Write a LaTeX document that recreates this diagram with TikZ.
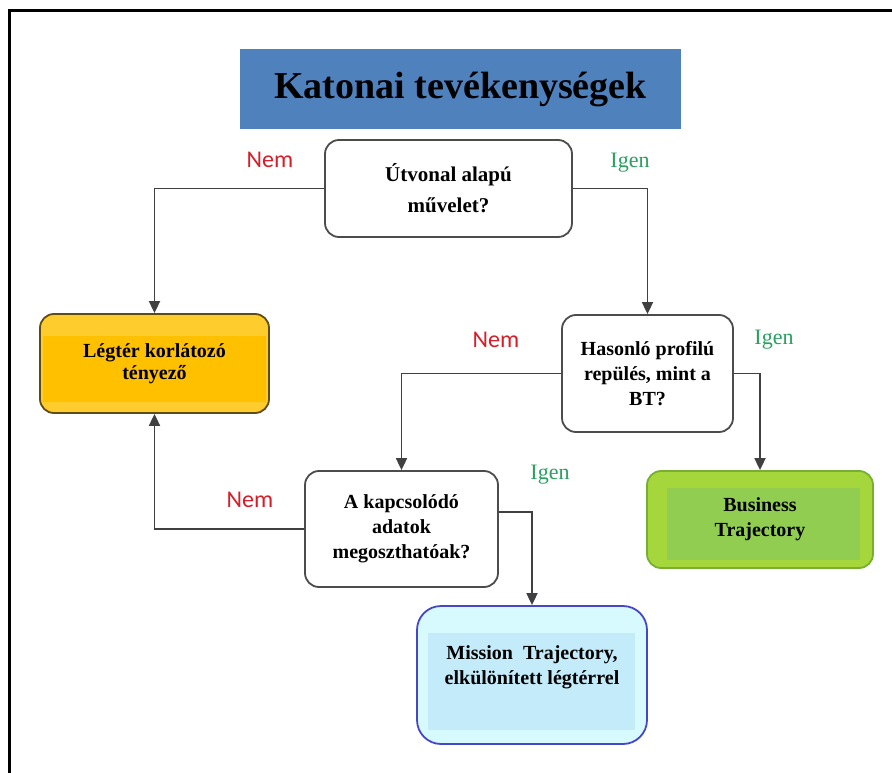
\documentclass[tikz,border=0pt]{standalone}
\usepackage{fontspec}
\setmainfont{Liberation Serif}
\newfontfamily\nemfont{Carlito}
\usetikzlibrary{positioning,arrows.meta}

\definecolor{titleblue}{RGB}{79,129,189}
\definecolor{nemred}{RGB}{215,30,40}
\definecolor{igengreen}{RGB}{40,160,95}
\definecolor{orangeout}{RGB}{255,204,45}
\definecolor{orangein}{RGB}{255,192,0}
\definecolor{orangeline}{RGB}{95,75,20}
\definecolor{greenout}{RGB}{165,215,60}
\definecolor{greenin}{RGB}{145,205,80}
\definecolor{greenline}{RGB}{120,175,50}
\definecolor{cyanout}{RGB}{215,250,255}
\definecolor{cyanin}{RGB}{195,235,250}
\definecolor{cyanline}{RGB}{70,70,200}

\begin{document}
\begin{tikzpicture}[x=1pt,y=-1pt,
  askbox/.style={rectangle,draw=black!70,line width=1.8pt,rounded corners=14pt,fill=white,align=center,font=\fontsize{20}{25}\selectfont\bfseries},
  endbox/.style n args={5}{rectangle,draw=#1,line width=1.8pt,rounded corners=14pt,fill=#2,align=center,font=\fontsize{20}{25}\selectfont\bfseries,
    path picture={\fill[#3,sharp corners] ([shift={(#4)}]path picture bounding box.north west) rectangle ([shift={(#5)}]path picture bounding box.south east);}},
  flow/.style={-{Triangle[length=12pt,width=11pt]},line width=1.8pt,black!75},
  nolabel/.style={font=\nemfont\fontsize{24}{24}\selectfont,text=nemred},
  yeslabel/.style={font=\fontsize{22}{22}\selectfont,text=igengreen},
]
\useasboundingbox (0,0) rectangle (892,773);

% frame
\draw[line width=3pt] (9,773) -- (9,11) -- (892,11);

% ==== title ====
\node[fill=titleblue,minimum width=441pt,minimum height=80pt,font=\fontsize{38}{40}\selectfont\bfseries] (title) at (460.5,89) {Katonai tevékenységek};

% ==== questions ====
\node[askbox,minimum width=247pt,minimum height=97pt,font=\fontsize{21}{31}\selectfont\bfseries] (route) at (448.5,188.5) {Útvonal alapú\\művelet?};
\node[askbox,minimum width=171pt,minimum height=117pt] (similar) at (647.5,373.5) {Hasonló profilú\\repülés, mint\ a\\BT?};
\node[askbox,minimum width=193pt,minimum height=116pt] (share) at (401.5,529) {A kapcsolódó\\adatok\\megoszthatóak?};

% ==== outcomes ====
\node[endbox={orangeline}{orangeout}{orangein}{3,22}{-3,-11},minimum width=229pt,minimum height=99pt,font=\fontsize{20}{22}\selectfont\bfseries] (restrict) at (154.5,363.5) {Légtér korlátozó\\tényező};
\node[endbox={greenline}{greenout}{greenin}{20,17}{-13,-8},minimum width=226pt,minimum height=97pt] (business) at (760,519.5) {Business\\Trajectory};
\node[endbox={cyanline}{cyanout}{cyanin}{11,27}{-12,-14},rounded corners=24pt,minimum width=230pt,minimum height=138pt] (mission) at (532,675) {Mission\ \ Trajectory,\\elkülönített légtérrel\\[-6pt]\mbox{}};

% ==== connectors ====
\draw[flow] (route.west) -| (restrict.north);
\draw[flow] (route.east) -| (similar.north);
\draw[flow] (similar.west) -| (share.north);
\draw[flow] (similar.east) -| (business.north);
\draw[flow] (share.west) -| (restrict.south);
\draw[flow] ([yshift=17pt]share.east) -| (mission.north);

% ==== answers ====
\node[nolabel] (no1) at (270,160) {Nem};
\node[yeslabel] (yes1) at (630,163) {Igen};
\node[nolabel] (no2) at (496,340) {Nem};
\node[yeslabel] (yes2) at (774,340) {Igen};
\node[nolabel] (no3) at (250,500) {Nem};
\node[yeslabel] (yes3) at (550,475) {Igen};

\end{tikzpicture}
\end{document}
